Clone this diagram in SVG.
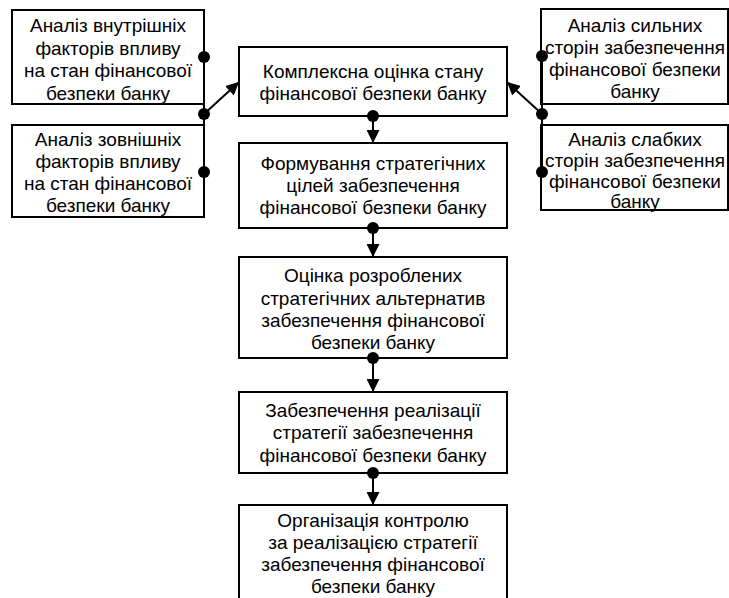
<svg xmlns="http://www.w3.org/2000/svg" width="729" height="598" viewBox="0 0 729 598">
<style>
.box{fill:#fff;stroke:#000;stroke-width:2}
.t{font-family:"Liberation Sans",Arial,sans-serif;font-size:19px;fill:#000;text-anchor:middle}
.c{stroke:#000;stroke-width:2;fill:none}
.d{fill:#000}
</style>
<defs>
<marker id="ah" viewBox="0 0 13 13" refX="13" refY="6.5" markerWidth="13" markerHeight="13" markerUnits="userSpaceOnUse" orient="auto">
<path d="M0,0 L13,6.5 L0,13 Z" fill="#000"/>
</marker>
</defs>
<rect width="729" height="598" fill="#fff"/>
<g id="n_int">
<rect class="box" x="12" y="10" width="192" height="94"/>
<text class="t"><tspan x="108" y="32">Аналіз внутрішніх</tspan><tspan x="108" y="54.5">факторів впливу</tspan><tspan x="108" y="77">на стан фінансової</tspan><tspan x="108" y="99.5">безпеки банку</tspan></text>
</g>
<g id="n_ext">
<rect class="box" x="12" y="125" width="192" height="92"/>
<text class="t"><tspan x="108" y="146">Аналіз зовнішніх</tspan><tspan x="108" y="168">факторів впливу</tspan><tspan x="108" y="190">на стан фінансової</tspan><tspan x="108" y="212">безпеки банку</tspan></text>
</g>
<g id="n_str">
<rect class="box" x="541" y="9" width="187" height="95"/>
<text class="t"><tspan x="635" y="32">Аналіз сильних</tspan><tspan x="635" y="54">сторін забезпечення</tspan><tspan x="635" y="76">фінансової безпеки</tspan><tspan x="635" y="98">банку</tspan></text>
</g>
<g id="n_weak">
<rect class="box" x="541" y="125" width="187" height="85"/>
<text class="t"><tspan x="635" y="146">Аналіз слабких</tspan><tspan x="635" y="167">сторін забезпечення</tspan><tspan x="635" y="188">фінансової безпеки</tspan><tspan x="635" y="208">банку</tspan></text>
</g>
<g id="n1">
<rect class="box" x="239" y="47" width="268" height="69"/>
<text class="t"><tspan x="373" y="78">Комплексна оцінка стану</tspan><tspan x="373" y="100">фінансової безпеки банку</tspan></text>
</g>
<g id="n2">
<rect class="box" x="239" y="143" width="268" height="85"/>
<text class="t"><tspan x="373" y="170">Формування стратегічних</tspan><tspan x="373" y="192">цілей забезпечення</tspan><tspan x="373" y="214">фінансової безпеки банку</tspan></text>
</g>
<g id="n3">
<rect class="box" x="239" y="257" width="268" height="101"/>
<text class="t"><tspan x="373" y="282">Оцінка розроблених</tspan><tspan x="373" y="304.5">стратегічних альтернатив</tspan><tspan x="373" y="327">забезпечення фінансової</tspan><tspan x="373" y="349">безпеки банку</tspan></text>
</g>
<g id="n4">
<rect class="box" x="239" y="392" width="268" height="81"/>
<text class="t"><tspan x="373" y="417">Забезпечення реалізації</tspan><tspan x="373" y="439">стратегії забезпечення</tspan><tspan x="373" y="462">фінансової безпеки банку</tspan></text>
</g>
<g id="n5">
<rect class="box" x="239" y="505" width="268" height="100"/>
<text class="t"><tspan x="373" y="527">Організація контролю</tspan><tspan x="373" y="549">за реалізацією стратегії</tspan><tspan x="373" y="571">забезпечення фінансової</tspan><tspan x="373" y="593">безпеки банку</tspan></text>
</g>
<g id="connectors">
<path class="c" d="M204,57 V172"/>
<path class="c" d="M204,114 L239,82" marker-end="url(#ah)"/>
<path class="c" d="M542,56 V172"/>
<path class="c" d="M542,114 L507,82" marker-end="url(#ah)"/>
<path class="c" d="M373,116 V143" marker-end="url(#ah)"/>
<path class="c" d="M373,228 V257" marker-end="url(#ah)"/>
<path class="c" d="M373,358 V392" marker-end="url(#ah)"/>
<path class="c" d="M373,473 V505" marker-end="url(#ah)"/>
<circle class="d" cx="204" cy="57" r="6"/>
<circle class="d" cx="204" cy="114" r="6"/>
<circle class="d" cx="204" cy="172" r="6"/>
<circle class="d" cx="542" cy="56" r="6"/>
<circle class="d" cx="542" cy="114" r="6"/>
<circle class="d" cx="542" cy="172" r="6"/>
<circle class="d" cx="373" cy="116" r="6"/>
<circle class="d" cx="373" cy="228" r="6"/>
<circle class="d" cx="373" cy="358" r="6"/>
<circle class="d" cx="373" cy="473" r="6"/>
</g>
</svg>
